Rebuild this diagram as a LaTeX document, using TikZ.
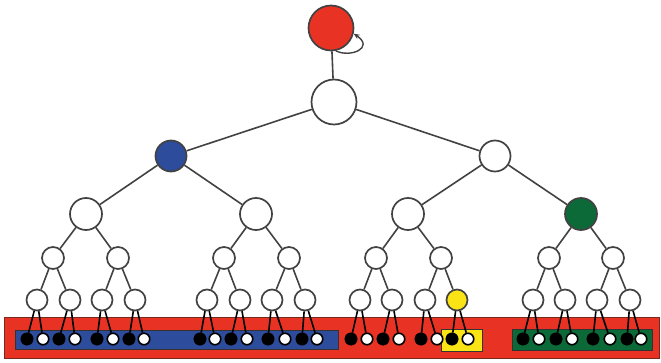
\documentclass[tikz,border=0pt]{standalone}
\usetikzlibrary{arrows.meta}
\definecolor{treered}{RGB}{232,50,36}
\definecolor{treeblue}{RGB}{46,76,156}
\definecolor{treegreen}{RGB}{12,106,56}
\definecolor{treeyellow}{RGB}{250,228,22}
\definecolor{linegray}{RGB}{66,66,66}
\definecolor{rimred}{RGB}{120,40,28}
\tikzset{
  vert/.style={circle, draw=linegray, line width=1.7pt, fill=white, inner sep=0pt, minimum size=#1},
  leafblack/.style={circle, draw=black, fill=black, inner sep=0pt, minimum size=12.5pt},
  leafwhite/.style={circle, draw=black, line width=1.6pt, fill=white, inner sep=0pt, minimum size=11.5pt},
  link/.style={draw=linegray, line width=1.6pt},
  band/.style={draw=rimred, line width=1pt},
  bin/.style={draw=black!80, line width=1pt}
}
\begin{document}
\begin{tikzpicture}[x=1pt, y=-1pt]
\useasboundingbox (0,0) rectangle (661,363);

% coloured bands behind the bottom rows
\path[band, fill=treered]  (4,317)   rectangle (659,358);
\path[bin, fill=treeblue]  (15,330)  rectangle (338,349);
\path[bin, fill=treeyellow](441,329) rectangle (482,351);
\path[bin, fill=treegreen] (512,329) rectangle (652,350);

% upper levels
\node[vert=45pt, fill=treered] (root) at (331,28) {};
\node[vert=45pt] (top) at (334,102) {};
\node[vert=31pt, fill=treeblue] (b1) at (171,156) {};
\node[vert=31pt] (b2) at (495,156) {};
\node[vert=32pt] (c1) at (86,214) {};
\node[vert=32pt] (c2) at (256,214) {};
\node[vert=32pt] (c3) at (408,214) {};
\node[vert=32pt, fill=treegreen] (c4) at (581,214) {};

\draw[link] (root) -- (top);
\draw[link] (top) -- (b1);
\draw[link] (top) -- (b2);
\draw[link] (b1) -- (c1);
\draw[link] (b1) -- (c2);
\draw[link] (b2) -- (c3);
\draw[link] (b2) -- (c4);

% self loop on the root
\draw[linegray, line width=1.4pt, -{Stealth[length=6pt,width=5pt]}]
  (root.-78) .. controls (350,58) and (375,48) .. (root.-14);

% fourth level
\foreach \x [count=\i] in {53,118,224,289,376,441,549,613} {
  \pgfmathtruncatemacro\up{(\i+1)/2}
  \node[vert=22pt] (d\i) at (\x,258) {};
  \draw[link] (c\up) -- (d\i);
}

% fifth level
\foreach \x/\col [count=\i] in {37/white,70/white,102/white,135/white,
    207/white,240/white,272/white,305/white,
    360/white,392/white,425/white,457/treeyellow,
    533/white,565/white,597/white,630/white} {
  \pgfmathtruncatemacro\up{(\i+1)/2}
  \node[vert=21pt, fill=\col] (e\i) at (\x,300) {};
  \draw[link] (d\up) -- (e\i);
}

% leaves
\foreach \x [count=\i] in {27,43,59,75,97,113,129,144,
    200,215,231,247,268,285,302,317,
    351,367,383,399,421,437,452,468,
    523,539,556,572,593,610,627,641} {
  \pgfmathtruncatemacro\up{(\i+1)/2}
  \ifodd\i\relax
    \node[leafblack] (f\i) at (\x,339) {};
  \else
    \node[leafwhite] (f\i) at (\x,339) {};
  \fi
  \draw[link, draw=black] (e\up) -- (f\i);
}
\end{tikzpicture}
\end{document}
